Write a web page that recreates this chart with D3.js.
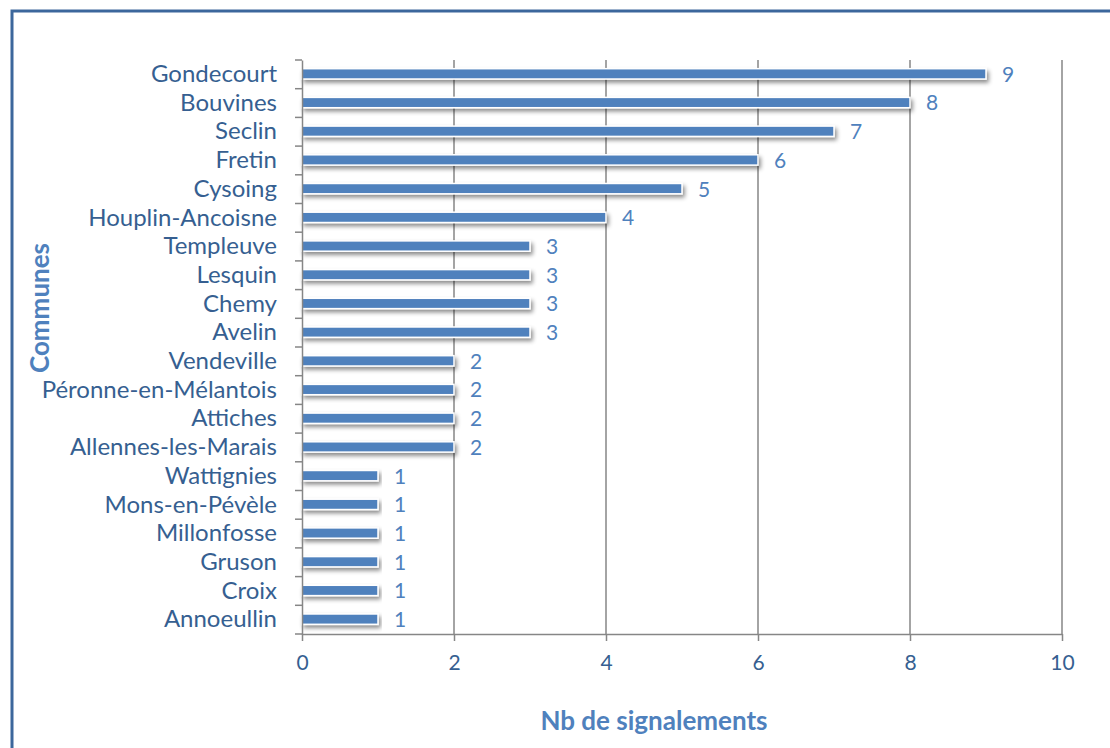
<!DOCTYPE html>
<html>
<head>
<meta charset="utf-8">
<script src="https://cdn.jsdelivr.net/npm/d3@7"></script>
<style>
  body { margin: 0; background: #fff; }
  svg { display: block; font-family: Lato, "Open Sans", sans-serif; }
</style>
</head>
<body>
<svg id="chart" width="1110" height="748"></svg>
<script>
// data, top to bottom
var communes = ['Gondecourt', 'Bouvines', 'Seclin', 'Fretin', 'Cysoing', 'Houplin-Ancoisne',
  'Templeuve', 'Lesquin', 'Chemy', 'Avelin', 'Vendeville', 'Péronne-en-Mélantois',
  'Attiches', 'Allennes-les-Marais', 'Wattignies', 'Mons-en-Pévèle', 'Millonfosse',
  'Gruson', 'Croix', 'Annoeullin'];
var signalements = [9, 8, 7, 6, 5, 4, 3, 3, 3, 3, 2, 2, 2, 2, 1, 1, 1, 1, 1, 1];
var xTicks = [0, 2, 4, 6, 8, 10];

function draw () {
  var data = communes.map(function (c, i) { return { name: c, value: signalements[i] }; });

  var svg = d3.select('#chart');
  var mLeft = 302, mRight = 1062, mTop = 60, mBottom = 634;
  var font = 'Lato, "Open Sans", sans-serif';

  var x = d3.scaleLinear().domain([0, 10]).range([mLeft, mRight]);
  var y = d3.scaleBand().domain(communes).range([mTop, mBottom]);

  // drop shadow for the bars
  var f = svg.append('defs').append('filter').attr('id', 'shadow')
    .attr('x', '-5%').attr('y', '-50%').attr('width', '110%').attr('height', '250%');
  f.append('feDropShadow').attr('dx', 2).attr('dy', 3).attr('stdDeviation', 2)
    .attr('flood-color', '#000').attr('flood-opacity', 0.45);

  // outer frame
  svg.append('rect')
    .attr('x', 12).attr('y', 11).attr('width', 1200).attr('height', 800)
    .attr('fill', 'none').attr('stroke', '#3c679c').attr('stroke-width', 3);

  // vertical gridlines
  svg.append('g').selectAll('line')
    .data(xTicks.slice(1))
    .join('line')
    .attr('x1', function (d) { return x(d); })
    .attr('x2', function (d) { return x(d); })
    .attr('y1', mTop).attr('y2', mBottom)
    .attr('stroke', '#868686').attr('stroke-width', 1.5);

  // bars
  var barH = y.bandwidth() * 0.36;
  svg.append('g').selectAll('rect')
    .data(data)
    .join('rect')
    .attr('x', x(0))
    .attr('y', function (d) { return y(d.name) + (y.bandwidth() - barH) / 2 - 0.5; })
    .attr('width', function (d) { return x(d.value) - x(0); })
    .attr('height', barH)
    .attr('fill', '#4f81bd')
    .attr('stroke', '#fff').attr('stroke-width', 1.5)
    .attr('filter', 'url(#shadow)');

  // value labels
  svg.append('g').selectAll('text')
    .data(data)
    .join('text')
    .attr('x', function (d) { return x(d.value) + 16; })
    .attr('y', function (d) { return y(d.name) + y.bandwidth() / 2; })
    .attr('dy', '0.35em')
    .attr('fill', '#4f81bd')
    .attr('font-size', 21)
    .text(function (d) { return d.value; });

  // y axis
  var yAxis = svg.append('g')
    .attr('transform', 'translate(' + mLeft + ',0)')
    .call(d3.axisLeft(y).tickSize(0).tickPadding(25));
  yAxis.select('.domain').attr('stroke', '#868686').attr('stroke-width', 1.5);
  yAxis.selectAll('text').attr('fill', '#365f91').attr('font-size', 24)
    .attr('font-family', font);
  // ticks between categories
  yAxis.selectAll('.sep')
    .data(d3.range(communes.length + 1))
    .join('line')
    .attr('class', 'sep')
    .attr('x1', -7).attr('x2', 0)
    .attr('y1', function (i) { return mTop + i * y.step(); })
    .attr('y2', function (i) { return mTop + i * y.step(); })
    .attr('stroke', '#868686').attr('stroke-width', 1.5);

  // x axis
  var xAxis = svg.append('g')
    .attr('transform', 'translate(0,' + mBottom + ')')
    .call(d3.axisBottom(x).tickValues(xTicks).tickSize(7).tickPadding(14).tickSizeOuter(0));
  xAxis.select('.domain').attr('stroke', '#868686').attr('stroke-width', 1.5);
  xAxis.selectAll('.tick line').attr('stroke', '#868686').attr('stroke-width', 1.5);
  xAxis.selectAll('text').attr('fill', '#365f91').attr('font-size', 21)
    .attr('font-family', font);

  // axis titles
  svg.append('text')
    .attr('x', 654).attr('y', 730)
    .attr('text-anchor', 'middle')
    .attr('fill', '#4f81bd').attr('font-weight', 'bold').attr('font-size', 26)
    .text('Nb de signalements');

  svg.append('text')
    .attr('transform', 'translate(49,308) rotate(-90)')
    .attr('text-anchor', 'middle')
    .attr('fill', '#4f81bd').attr('font-weight', 'bold').attr('font-size', 26)
    .text('Communes');
}

draw();
</script>
</body>
</html>
